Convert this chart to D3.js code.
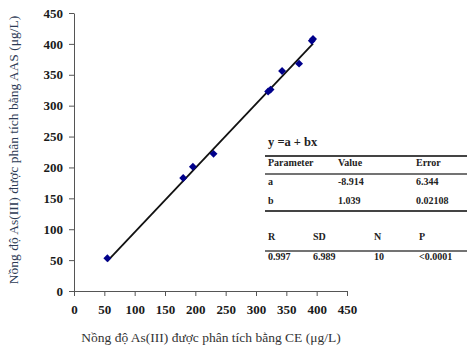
<!DOCTYPE html>
<html>
<head>
<meta charset="utf-8">
<script src="https://cdn.jsdelivr.net/npm/d3@7"></script>
<style>
  body { margin: 0; background: #fff; }
  svg text { font-family: "Liberation Serif", "Times New Roman", serif; }
</style>
</head>
<body>
<div id="chart"></div>
<script>
// data
var ceValues  = [55, 180, 196, 230, 320, 324, 343, 371, 392, 394];
var aasValues = [53, 183, 201, 222, 323, 326, 356, 368, 405, 408];
var fitA = -8.914, fitB = 1.039;
var xTicks = [0, 50, 100, 150, 200, 250, 300, 350, 400, 450];
var yTicks = [0, 50, 100, 150, 200, 250, 300, 350, 400, 450];
var paramRows = [["Parameter", "Value", "Error"], ["a", "-8.914", "6.344"], ["b", "1.039", "0.02108"]];
var statRows = [["R", "SD", "N", "P"], ["0.997", "6.989", "10", "<0.0001"]];

var width = 467, height = 349;
var svg = d3.select("#chart").append("svg")
  .attr("width", width)
  .attr("height", height);

var x = d3.scaleLinear().domain([0, 450]).range([74, 347]);
var y = d3.scaleLinear().domain([0, 450]).range([291, 13]);

// axes
var xAxis = svg.append("g")
  .attr("transform", "translate(0," + y(0) + ")")
  .call(d3.axisBottom(x).tickValues(xTicks).tickSize(5).tickSizeOuter(0).tickPadding(6));
var yAxis = svg.append("g")
  .attr("transform", "translate(" + x(0) + ",0)")
  .call(d3.axisLeft(y).tickValues(yTicks).tickSize(5).tickSizeOuter(0).tickPadding(6));

[xAxis, yAxis].forEach(function(g){
  g.select(".domain").attr("stroke", "#555");
  g.selectAll(".tick line").attr("stroke", "#555");
  g.selectAll(".tick text")
    .attr("fill", "#1a1a1a")
    .style("font-size", "13px")
    .style("font-weight", "bold")
    .style("font-family", "'Liberation Serif', serif");
});
xAxis.selectAll(".tick text").attr("dy", "0.9em");

// fit line
var xMin = d3.min(ceValues), xMax = d3.max(ceValues);
svg.append("line")
  .attr("x1", x(xMin)).attr("y1", y(fitA + fitB * xMin))
  .attr("x2", x(xMax)).attr("y2", y(fitA + fitB * xMax))
  .attr("stroke", "#111")
  .attr("stroke-width", 1.8);

// points
var diamond = d3.symbol().type(d3.symbolDiamond2).size(40);
svg.selectAll(".pt")
  .data(ceValues)
  .enter().append("path")
  .attr("class", "pt")
  .attr("d", diamond)
  .attr("fill", "#00008b")
  .attr("transform", function(d, i){ return "translate(" + x(d) + "," + y(aasValues[i]) + ")"; });

// axis labels
svg.append("text")
  .attr("x", 211).attr("y", 342)
  .attr("text-anchor", "middle")
  .attr("fill", "#333")
  .style("font-size", "13.5px")
  .text("Nồng độ As(III) được phân tích bằng CE (μg/L)");

svg.append("text")
  .attr("transform", "translate(18,150) rotate(-90)")
  .attr("text-anchor", "middle")
  .attr("fill", "#2e3b55")
  .style("font-size", "13.5px")
  .text("Nồng độ As(III) được phân tích bằng AAS (μg/L)");

// fit table
var tbl = svg.append("g").style("font-weight", "bold").attr("fill", "#222");
tbl.append("text").attr("x", 268).attr("y", 146).style("font-size", "12.5px").text("y =a + bx");

var pCols = [268, 338, 416];
var pRowY = [166, 185, 204];
paramRows.forEach(function(row, r){
  row.forEach(function(cell, c){
    tbl.append("text").attr("x", pCols[c]).attr("y", pRowY[r])
      .style("font-size", "10px").text(cell);
  });
});
var sCols = [268, 313, 374, 419];
var sRowY = [240, 260];
statRows.forEach(function(row, r){
  row.forEach(function(cell, c){
    tbl.append("text").attr("x", sCols[c]).attr("y", sRowY[r])
      .style("font-size", "10px").text(cell);
  });
});

[[156, 2], [174, 1.5], [211, 2], [251, 1.5]].forEach(function(l){
  svg.append("line")
    .attr("x1", 265).attr("x2", 467)
    .attr("y1", l[0]).attr("y2", l[0])
    .attr("stroke", "#444")
    .attr("stroke-width", l[1]);
});
</script>
</body>
</html>
